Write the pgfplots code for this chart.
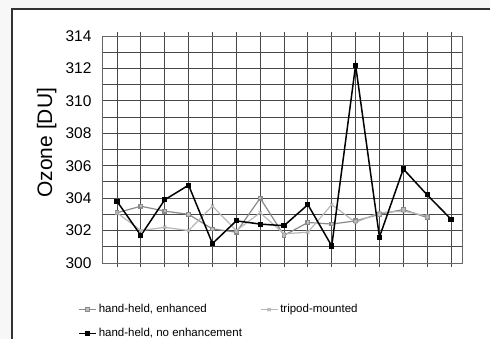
\documentclass[border=0pt]{standalone}
\usepackage{pgfplots}
\pgfplotsset{compat=1.18}
\usepackage{fontspec}
\setmainfont{Liberation Sans}
\definecolor{gridc}{HTML}{484848}
\definecolor{enh}{HTML}{8A8A8A}
\definecolor{tri}{HTML}{B8B8B8}
\begin{document}
\begin{tikzpicture}[x=1pt,y=1pt]
\useasboundingbox (0,0) rectangle (490,339);
\fill[white!97!black] (0,0) rectangle (490,339);
\fill[white] (12,0) rectangle (490,330);
\draw[line width=1.3pt, black!80] (12,0) -- (12,330) -- (490,330);
\begin{axis}[
  at={(102pt,76pt)}, anchor=south west,
  scale only axis, width=360pt, height=227pt,
  xmin=0.37, xmax=15.46, ymin=300, ymax=314,
  xtick={1,...,15}, xticklabels={},
  ytick={300,302,...,314}, minor ytick={301,303,...,313},
  grid=both,
  major grid style={gridc, line width=0.95pt},
  minor grid style={gridc, line width=0.95pt},
  axis line style={black!60, line width=0.8pt},
  tick style={gridc, line width=0.95pt},
  tick align=outside, major tick length=4pt, minor tick length=0pt,
  ytick style={draw=none},
  /pgf/number format/assume math mode=true,
  yticklabel style={font=\fontsize{15.5}{16}\selectfont, xshift=-3pt},
  ylabel={Ozone [DU]},
  ylabel style={font=\fontsize{21}{21}\selectfont, at={(rel axis cs:0,0.53)}, anchor=south, yshift=42pt},
  legend columns=2,
  legend style={draw=none, fill=none, at={(rel axis cs:-0.075,-0.165)}, anchor=north west,
    font=\fontsize{11.5}{11.5}\selectfont, row sep=10pt,
    /tikz/every even column/.append style={column sep=16pt}},
  legend cell align=left,
]
\addplot[enh, line width=1.2pt, mark=square*, mark options={fill=white!75!black, draw=enh, scale=0.9}]
coordinates {(1,303.1)(2,303.5)(3,303.2)(4,303.0)(5,302.1)(6,301.9)(7,304.0)(8,301.7)(9,302.5)(10,302.4)(11,302.6)(12,303.0)(13,303.3)(14,302.8)};
\addlegendentry{hand-held, enhanced}
\addplot[tri, line width=1.2pt, mark=x, mark options={tri, scale=1.1}]
coordinates {(1,303.1)(2,302.0)(3,302.2)(4,302.0)(5,303.5)(6,302.0)(7,303.1)(8,301.8)(9,301.9)(10,303.6)(11,302.5)(12,303.1)(13,303.2)(14,302.9)};
\addlegendentry{tripod-mounted}
\addplot[black, line width=1.5pt, mark=square*, mark options={fill=black, scale=0.9}]
coordinates {(1,303.8)(2,301.7)(3,303.9)(4,304.8)(5,301.2)(6,302.6)(7,302.4)(8,302.3)(9,303.6)(10,301.05)(11,312.2)(12,301.6)(13,305.8)(14,304.2)(15,302.7)};
\addlegendentry{hand-held, no enhancement}
\end{axis}
\end{tikzpicture}
\end{document}
